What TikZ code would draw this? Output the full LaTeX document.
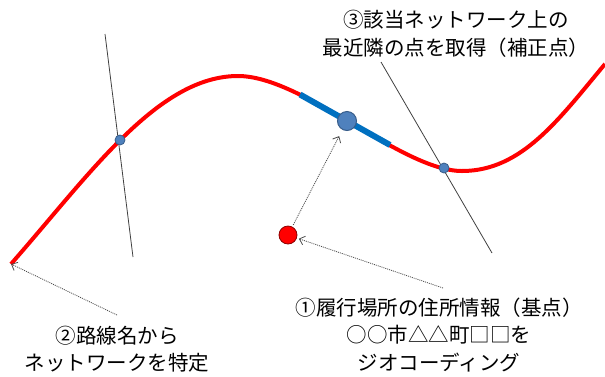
\documentclass[tikz,border=0pt]{standalone}
\usepackage{fontspec}
\newfontfamily\jp{Noto Sans CJK JP}
\usetikzlibrary{arrows.meta}
\definecolor{curvered}{RGB}{255,0,0}
\definecolor{segblue}{RGB}{0,112,192}
\definecolor{dotblue}{RGB}{79,129,189}
\definecolor{dotedge}{RGB}{56,93,138}
\definecolor{reddotedge}{RGB}{140,0,0}
\definecolor{guidegray}{RGB}{64,64,64}
\begin{document}
\begin{tikzpicture}[x=1pt,y=-1pt,
  txt/.style={font=\jp\fontsize{20.5}{27.5}\selectfont, align=center, inner sep=0pt},
  road/.style={draw=curvered, line width=4pt},
  tangentseg/.style={draw=segblue, line width=6pt},
  guide/.style={draw=guidegray, line width=0.8pt},
  pointer/.style={draw=gray!60!black, line width=0.8pt, dash pattern=on 1pt off 1pt,
    -{Straight Barb[length=5pt,width=9pt]}},
  smalldot/.style={circle, fill=dotblue, draw=dotedge, line width=0.8pt, minimum size=10pt, inner sep=0pt},
  bigdot/.style={circle, fill=dotblue, draw=dotedge, line width=1pt, minimum size=19pt, inner sep=0pt},
  reddot/.style={circle, fill=curvered, draw=reddotedge, line width=0.8pt, minimum size=18pt, inner sep=0pt}
]
\useasboundingbox (0,0) rectangle (605,376);
% guide lines
\coordinate (g1a) at (105,34);
\coordinate (g1b) at (133,257);
\coordinate (g2a) at (381,62);
\coordinate (g2b) at (492,253);
\draw[guide] (g1a) -- (g1b);
\draw[guide] (g2a) -- (g2b);
% road network curve
\coordinate (cs) at (11,264);
\coordinate (pk) at (238,76);
\coordinate (mn) at (462,171);
\coordinate (ce) at (605,64);
\draw[road] (cs) .. controls (90,174) and (158,76) .. (pk)
  .. controls (303,76) and (402,171) .. (mn)
  .. controls (522,171) and (559,119) .. (ce);
% tangent segment
\coordinate (sa) at (300,94.5);
\coordinate (sb) at (390,145);
\draw[tangentseg] (sa) -- (sb);
% points
\node[smalldot] (d1) at (120,140) {};
\node[smalldot] (d2) at (444,168) {};
\node[bigdot] (nb) at (347,121) {};
\node[reddot] (nr) at (288,235) {};
% texts
\node[txt] (l3) at (456,34) {③該当ネットワーク上の\\最近隣の点を取得（補正点）};
\node[txt] (l1) at (439,335) {①履行場所の住所情報（基点）\\○○市△△町□□を\\ジオコーディング};
\node[txt] (l2) at (117,349) {②路線名から\\ネットワークを特定};
% pointers
\coordinate (t2) at (117,315);
\coordinate (t1) at (443,288);
\draw[pointer] (t2) -- (cs);
\draw[pointer, shorten >=2pt] (t1) -- (nr);
\draw[pointer, shorten <=2pt, shorten >=7pt] (nr) -- (nb);
\end{tikzpicture}
\end{document}
